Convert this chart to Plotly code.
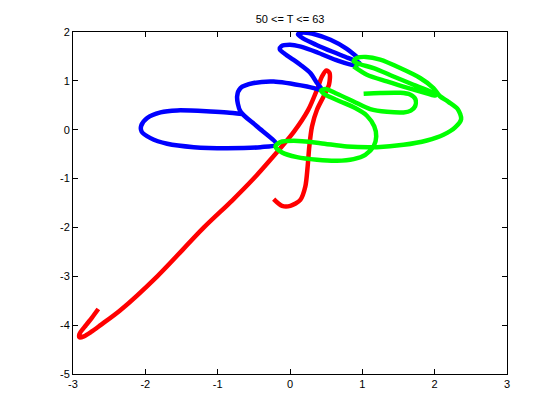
import plotly.graph_objects as go

# Trajectory 1 (red)
red_x = [-2.65, -2.74, -2.82, -2.91, -2.91, -2.85, -2.75, -2.62, -2.35, -1.835, -1.19, -0.80,
         -0.502, -0.271, 0.05, 0.25, 0.373, 0.442, 0.502, 0.547, 0.539, 0.464, 0.373, 0.304,
         0.267, 0.244, 0.212, 0.143, 0.005, -0.110, -0.226]
red_y = [-3.67, -3.85, -4.0, -4.18, -4.25, -4.23, -4.14, -4.0, -3.70, -3.0, -2.0, -1.45,
         -1.0, -0.616, -0.05, 0.40, 0.818, 1.09, 1.213, 1.16, 0.92, 0.68, 0.408, 0.066,
         -0.344, -0.754, -1.163, -1.436, -1.559, -1.559, -1.421]

# Trajectory 2 (blue)
blue_x = [-0.662, -0.869, -1.099, -1.560, -1.790, -1.974, -2.057, -2.052, -1.928, -1.698,
          -1.330, -0.869, -0.409, -0.190, -0.455, -0.685, -0.731, -0.685, -0.502, -0.226,
          0.235, 0.442, 0.373, 0.281, 0.143, 0.05, -0.07, -0.14, -0.12, 0.0, 0.15,
          0.38, 0.63, 0.90, 0.96, 0.80, 0.58, 0.36, 0.18, 0.11, 0.16, 0.35, 0.56, 0.78, 0.95]
blue_y = [0.320, 0.354, 0.374, 0.395, 0.354, 0.238, 0.081, -0.036, -0.172, -0.288,
          -0.357, -0.377, -0.357, -0.300, 0.066, 0.373, 0.680, 0.853, 0.955, 0.988,
          0.886, 0.818, 0.955, 1.160, 1.330, 1.430, 1.550, 1.640, 1.710, 1.740, 1.700,
          1.580, 1.430, 1.320, 1.370, 1.470, 1.600, 1.740, 1.870, 1.950, 1.985, 1.950, 1.840, 1.660, 1.460]

# Trajectory 3 (green)
green_x = [1.018, 1.248, 1.524, 1.66, 1.735, 1.73, 1.67, 1.57, 1.34, 1.11, 0.879, 0.649,
           0.488, 0.428, 0.488, 0.695, 0.902, 1.063, 1.165, 1.192, 1.156, 1.041, 0.879,
           0.649, 0.373, 0.097, -0.110, -0.202, -0.133, 0.051, 0.419, 0.787, 1.201, 1.570,
           1.892, 2.122, 2.283, 2.366, 2.32, 2.19, 2.07, 1.983, 1.799, 1.523, 1.247, 1.05,
           0.93, 0.88, 0.97, 1.155, 1.431, 1.707, 1.937, 2.01, 1.90, 1.615, 1.339, 1.063, 0.879]
green_y = [0.736, 0.752, 0.755, 0.72, 0.62, 0.48, 0.39, 0.354, 0.367, 0.422, 0.579, 0.736,
           0.832, 0.798, 0.716, 0.579, 0.443, 0.286, 0.067, -0.138, -0.343, -0.514, -0.602,
           -0.637, -0.616, -0.561, -0.466, -0.343, -0.254, -0.227, -0.275, -0.343, -0.357, -0.309,
           -0.220, -0.104, 0.046, 0.217, 0.42, 0.57, 0.69, 0.853, 1.058, 1.262, 1.433, 1.49,
           1.47, 1.40, 1.34, 1.262, 1.09, 0.92, 0.783, 0.70, 0.74, 0.86, 0.988, 1.125, 1.295]

x_ticks = [-3, -2, -1, 0, 1, 2, 3]
y_ticks = [-5, -4, -3, -2, -1, 0, 1, 2]
title_text = "50 <= T <= 63"

fig = go.Figure()
for xs, ys, col in [(red_x, red_y, "#FF0000"), (blue_x, blue_y, "#0000FF"), (green_x, green_y, "#00FF00")]:
    fig.add_trace(go.Scatter(x=xs, y=ys, mode="lines",
                             line=dict(color=col, width=4.5, shape="spline", smoothing=0.8),
                             showlegend=False, hoverinfo="skip"))

axis_common = dict(showgrid=False, zeroline=False, showline=True, linecolor="black", linewidth=1,
                   mirror="ticks", ticks="inside", ticklen=5, tickcolor="black",
                   tickfont=dict(family="Liberation Sans, Arial, sans-serif", size=11, color="black"))
fig.update_xaxes(range=[-3, 3], tickvals=x_ticks, ticktext=[str(v) for v in x_ticks], **axis_common)
fig.update_yaxes(range=[-5, 2], tickvals=y_ticks, ticktext=[str(v) for v in y_ticks], **axis_common)

fig.update_layout(
    width=560, height=420,
    margin=dict(l=73, r=53, t=32, b=46),
    paper_bgcolor="white", plot_bgcolor="white",
    title=dict(text=title_text, x=0.518, xanchor="center", y=1 - 19 / 420, yanchor="middle",
               yref="container", font=dict(family="Liberation Sans, Arial, sans-serif", size=11, color="black")),
)
fig.write_html("out.html", config={"displayModeBar": False},
               post_script="document.body.style.margin='0';document.body.style.overflow='hidden';")
